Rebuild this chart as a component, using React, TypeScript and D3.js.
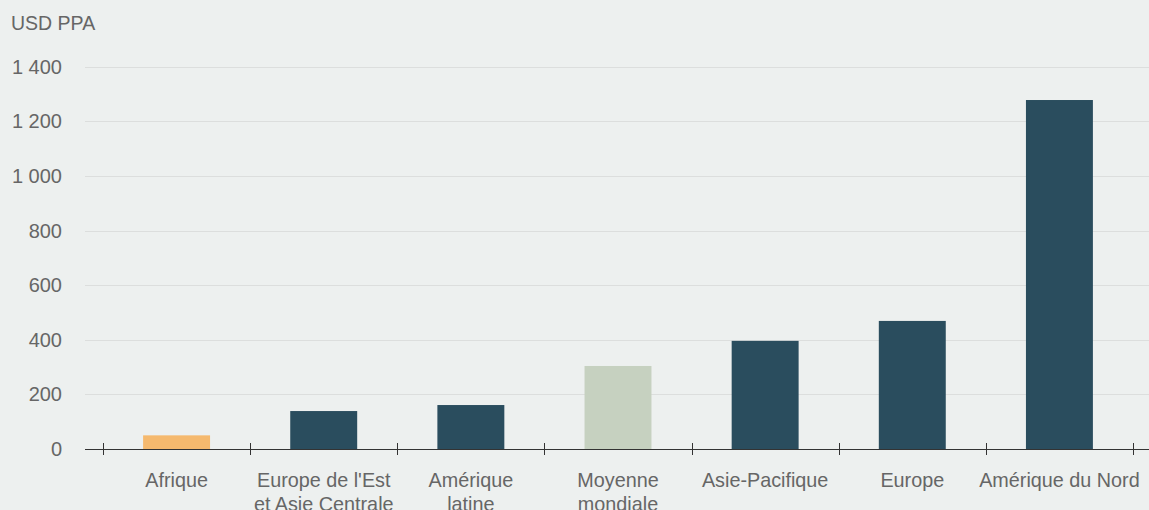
import React from "react";
import * as d3 from "d3";

const categories: string[][] = [
  ["Afrique"],
  ["Europe de l'Est", "et Asie Centrale"],
  ["Amérique", "latine"],
  ["Moyenne", "mondiale"],
  ["Asie-Pacifique"],
  ["Europe"],
  ["Amérique du Nord"],
];
const values: number[] = [50, 139, 161, 304, 396, 469, 1278];
const barColors: string[] = ["#f5b96e", "#2a4d5e", "#2a4d5e", "#c6d1c0", "#2a4d5e", "#2a4d5e", "#2a4d5e"];
const yTicks: number[] = [0, 200, 400, 600, 800, 1000, 1200, 1400];
const yTitle = "USD PPA";

const W = 1149;
const H = 510;
const plotLeft = 85;
const plotRight = 1149;
const bandLeft = 103;
const bandRight = 1133;
const fontFamily = "'Liberation Sans', Arial, Helvetica, sans-serif";

const fmt = (v: number) => {
  const s = String(v);
  return s.length > 3 ? s.slice(0, s.length - 3) + " " + s.slice(s.length - 3) : s;
};

export default function App() {
  const keys = categories.map((c) => c.join(" "));
  const x = d3.scaleBand<string>().domain(keys).range([bandLeft, bandRight]).paddingInner(0.545).paddingOuter(0.2725);
  const y = d3.scaleLinear().domain([0, 1400]).range([449, 66.7]);
  const step = x.step();
  const tickXs = d3.range(keys.length + 1).map((i) => bandLeft + i * step);

  return (
    <svg width={W} height={H} style={{ position: "absolute", left: 0, top: 0, display: "block" }}>
      <rect x={0} y={0} width={W} height={H} fill="#edf0ef" />
      <text x={11} y={30} fontFamily={fontFamily} fontSize={19.5} fill="#666666">{yTitle}</text>
      {yTicks.map((t) => (
        <g key={t}>
          {t !== 0 && (
            <line x1={plotLeft} x2={plotRight} y1={Math.round(y(t)) + 0.5} y2={Math.round(y(t)) + 0.5} stroke="#dcdedd" strokeWidth={1} />
          )}
          <text x={62} y={y(t) + 7} textAnchor="end" fontFamily={fontFamily} fontSize={20} fill="#666666">
            {fmt(t)}
          </text>
        </g>
      ))}
      {keys.map((k, i) => (
        <rect key={k} x={x(k)} y={y(values[i])} width={x.bandwidth()} height={y(0) - y(values[i])} fill={barColors[i]} />
      ))}
      <line x1={plotLeft} x2={plotRight} y1={449.5} y2={449.5} stroke="#333333" strokeWidth={1} />
      {tickXs.map((tx, i) => (
        <line key={i} x1={Math.round(tx) + 0.5} x2={Math.round(tx) + 0.5} y1={443} y2={455} stroke="#333333" strokeWidth={1} />
      ))}
      {categories.map((lines, i) => (
        <text key={i} textAnchor="middle" fontFamily={fontFamily} fontSize={19.8} fill="#666666">
          {lines.map((ln, j) => (
            <tspan key={j} x={(x(keys[i]) as number) + x.bandwidth() / 2} y={487 + j * 24}>
              {ln}
            </tspan>
          ))}
        </text>
      ))}
    </svg>
  );
}
